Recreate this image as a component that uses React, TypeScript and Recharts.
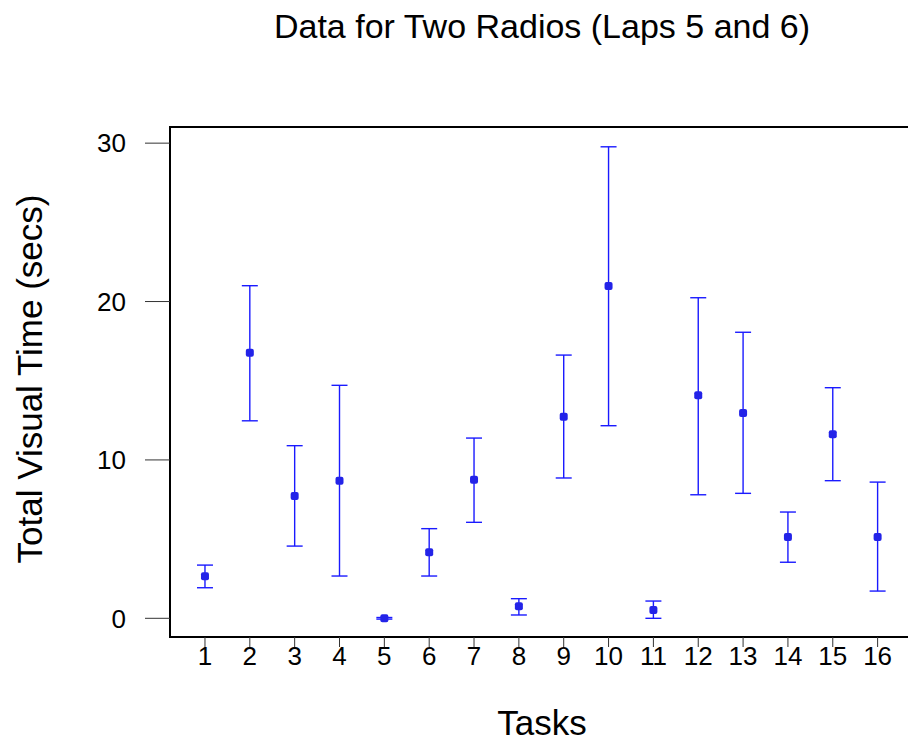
import { ScatterChart, Scatter, XAxis, YAxis, ErrorBar, ReferenceArea } from "recharts";

const tasks = [1, 2, 3, 4, 5, 6, 7, 8, 9, 10, 11, 12, 13, 14, 15, 16];
const means = [2.65, 16.77, 7.72, 8.69, 0.0, 4.17, 8.75, 0.76, 12.73, 20.98, 0.52, 14.08, 12.96, 5.13, 11.62, 5.13];
const upper = [3.36, 21.0, 10.9, 14.71, 0.05, 5.66, 11.38, 1.24, 16.62, 29.77, 1.09, 20.24, 18.06, 6.71, 14.56, 8.6];
const lower = [1.93, 12.47, 4.56, 2.67, -0.05, 2.67, 6.06, 0.21, 8.86, 12.16, 0.0, 7.8, 7.89, 3.54, 8.69, 1.72];
const yTicks = [0, 10, 20, 30];

const X_DOMAIN: [number, number] = [0.22, 16.7];
const Y_DOMAIN: [number, number] = [-1.18, 31.02];

const FONT = '"Liberation Sans", Arial, sans-serif';
const BLUE = "#1a1aff";

// error arrays are [below, above] the mean
const chartData = tasks.map((t, i) => ({
  task: t,
  mean: means[i],
  err: [means[i] - lower[i], upper[i] - means[i]],
}));

const XTick = ({ x, y, payload }: any) => (
  <text x={x} y={y + 18} textAnchor="middle" fontSize={26} fontFamily={FONT} fill="#000">
    {payload.value}
  </text>
);

const YTick = ({ x, y, payload }: any) => (
  <text x={x} y={y + 9.3} textAnchor="end" fontSize={26} fontFamily={FONT} fill="#000">
    {payload.value}
  </text>
);

const Marker = ({ cx, cy }: any) => (
  <rect x={cx - 4} y={cy - 4} width={8} height={8} rx={2} fill="#2323e8" />
);

export default function App() {
  return (
    <div
      style={{
        position: "absolute",
        left: 0,
        top: 0,
        width: 908,
        height: 744,
        overflow: "hidden",
        background: "#fff",
        fontFamily: FONT,
      }}
    >
      <div
        style={{
          position: "absolute",
          left: 542,
          top: 9,
          transform: "translateX(-50%)",
          whiteSpace: "nowrap",
          fontSize: 34,
          lineHeight: "34px",
          color: "#000",
        }}
      >
        Data for Two Radios (Laps 5 and 6)
      </div>
      <ScatterChart width={910} height={744} margin={{ top: 127, right: 1, bottom: 0, left: 0 }}>
        <ReferenceArea
          x1={X_DOMAIN[0]}
          x2={X_DOMAIN[1]}
          y1={Y_DOMAIN[0]}
          y2={Y_DOMAIN[1]}
          fill="none"
          stroke="#000"
          strokeWidth={2}
          ifOverflow="visible"
        />
        <XAxis
          dataKey="task"
          type="number"
          domain={X_DOMAIN}
          allowDataOverflow
          ticks={tasks}
          interval={0}
          height={107}
          axisLine={false}
          tickSize={10}
          tickMargin={0}
          tickLine={{ stroke: "#333", strokeWidth: 1 }}
          tick={<XTick />}
          label={{
            content: () => (
              <text x={542} y={735} textAnchor="middle" fontSize={35} fontFamily={FONT} fill="#000">
                Tasks
              </text>
            ),
          }}
        />
        <YAxis
          dataKey="mean"
          type="number"
          domain={Y_DOMAIN}
          allowDataOverflow
          ticks={yTicks}
          interval={0}
          width={170}
          axisLine={false}
          tickSize={25}
          tickMargin={19}
          tickLine={{ stroke: "#333", strokeWidth: 1 }}
          tick={<YTick />}
          label={{
            content: () => (
              <text
                transform="translate(42,379) rotate(-90)"
                textAnchor="middle"
                fontSize={35}
                fontFamily={FONT}
                fill="#000"
              >
                Total Visual Time (secs)
              </text>
            ),
          }}
        />
        <Scatter data={chartData} dataKey="mean" shape={<Marker />} isAnimationActive={false}>
          <ErrorBar dataKey="err" direction="y" width={8} stroke={BLUE} strokeWidth={1.4} isAnimationActive={false} />
        </Scatter>
      </ScatterChart>
    </div>
  );
}
